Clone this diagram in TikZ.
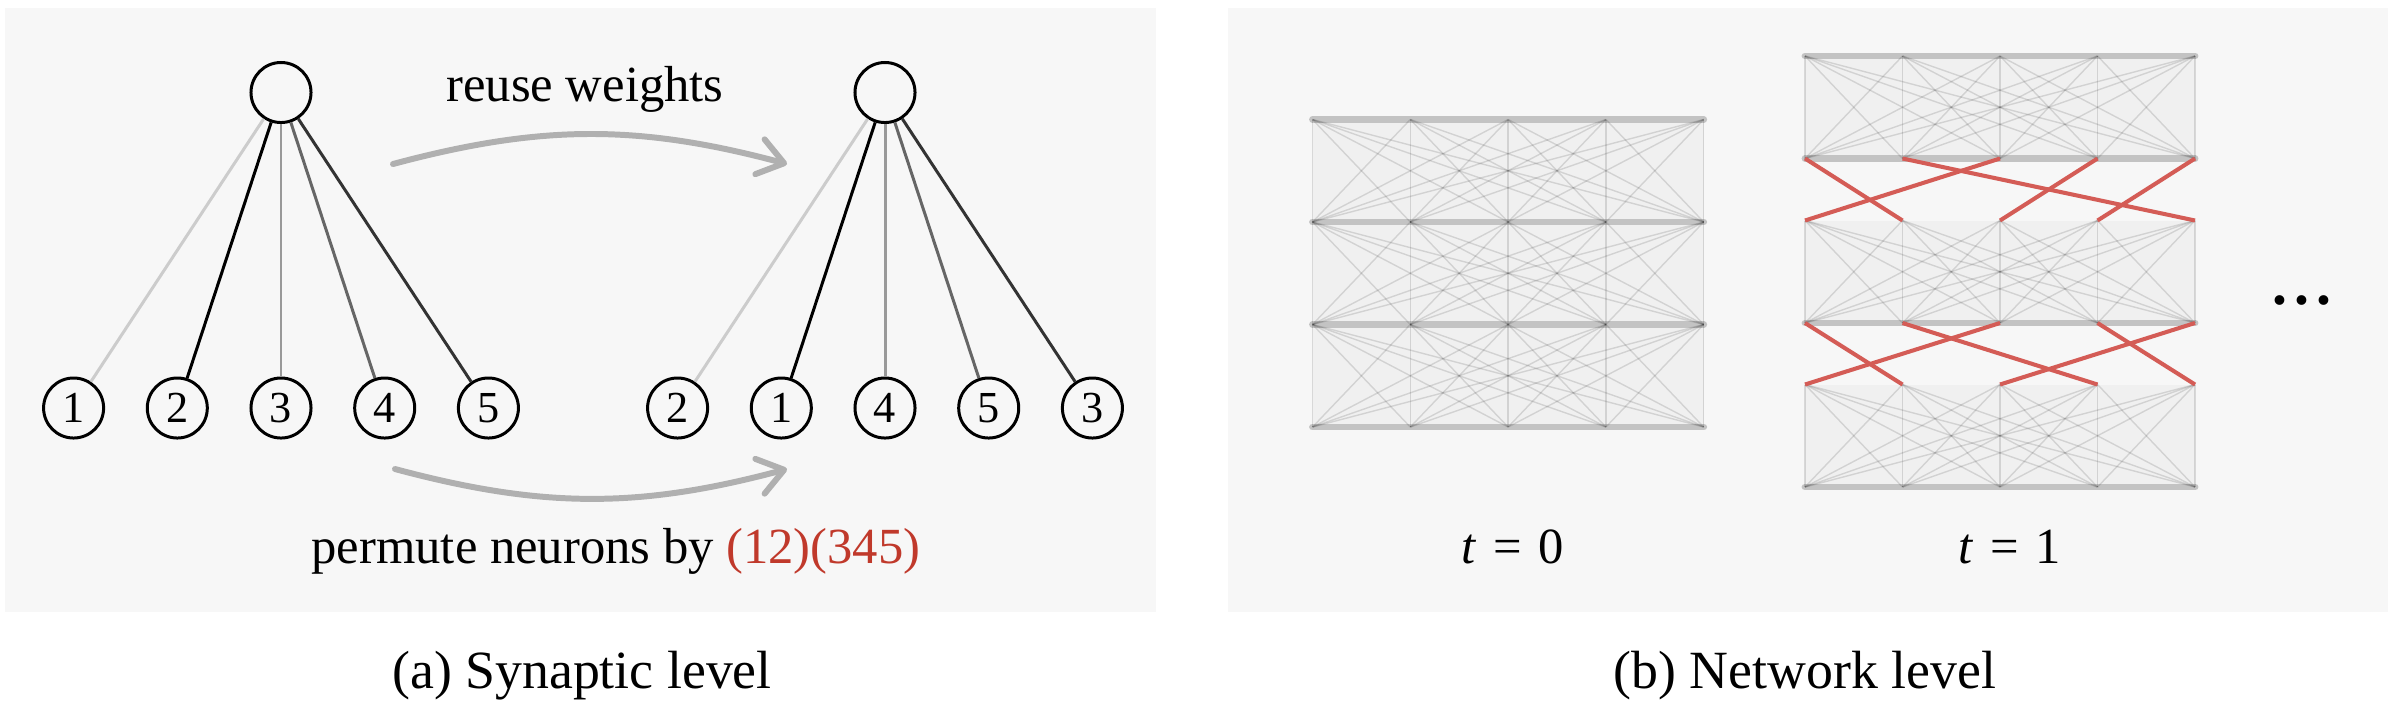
\documentclass[tikz,border=0pt]{standalone}
\usepackage{fontspec}
\setmainfont{Liberation Serif}
\usetikzlibrary{arrows.meta}
\definecolor{panelbg}{HTML}{F7F7F7}
\definecolor{permred}{RGB}{192,57,43}
\definecolor{permline}{RGB}{212,92,86}
\definecolor{arrgray}{HTML}{B0B0B0}
\definecolor{blockfill}{HTML}{F0F0F0}
\definecolor{bargray}{HTML}{C3C3C3}
\tikzset{
  neuron/.style={circle, draw=black, line width=0.85pt, fill=panelbg, minimum size=0.6cm, inner sep=0pt,
                 font=\fontsize{12.6pt}{14pt}\selectfont},
  syn/.style={line width=0.85pt},
  bigarrow/.style={draw=arrgray, line width=1.7pt, line cap=round,
                   -{Straight Barb[length=0.25cm, width=0.36cm, line cap=round, line join=round]}},
  lbl/.style={anchor=base, inner sep=0pt, font=\fontsize{14.4pt}{17pt}\selectfont},
  caption/.style={anchor=base, inner sep=0pt, font=\fontsize{15.3pt}{18pt}\selectfont},
  blockrect/.style={fill=blockfill},
  bar/.style={draw=bargray, line width=1.95pt, line cap=round},
  dense/.style={draw=black, opacity=0.12, line width=0.4pt},
  perm/.style={draw=permline, line width=1.15pt},
}
\begin{document}
\begin{tikzpicture}[x=0.01cm, y=-0.01cm]
\useasboundingbox (0,0) rectangle (2388,708);
\fill[white] (0,0) rectangle (2388,708);
\fill[panelbg] (5,8) rectangle (1156,612);
\fill[panelbg] (1228,8) rectangle (2388,612);

% ---------- (a) synaptic level ----------
\node[neuron] (L0) at (281,92.5) {};
\node[neuron] (L1) at (73.6,408) {1};
\node[neuron] (L2) at (177.3,408) {2};
\node[neuron] (L3) at (281,408) {3};
\node[neuron] (L4) at (384.7,408) {4};
\node[neuron] (L5) at (488.4,408) {5};

\node[neuron] (R0) at (885,92.5) {};
\node[neuron] (R2) at (677.6,408) {2};
\node[neuron] (R1) at (781.3,408) {1};
\node[neuron] (R4) at (885,408) {4};
\node[neuron] (R5) at (988.7,408) {5};
\node[neuron] (R3) at (1092.4,408) {3};

\draw[syn, black!20] (L0) -- (L1);
\draw[syn, black]    (L0) -- (L2);
\draw[syn, black!40] (L0) -- (L3);
\draw[syn, black!60] (L0) -- (L4);
\draw[syn, black!80] (L0) -- (L5);

\draw[syn, black!20] (R0) -- (R2);
\draw[syn, black]    (R0) -- (R1);
\draw[syn, black!40] (R0) -- (R4);
\draw[syn, black!60] (R0) -- (R5);
\draw[syn, black!80] (R0) -- (R3);

\coordinate (rws) at (393,164);
\coordinate (rwe) at (787,164);
\coordinate (pms) at (395,469);
\coordinate (pme) at (787,469);
\draw[bigarrow] (rws) to[bend left=15] (rwe);
\draw[bigarrow] (pms) to[bend right=15] (pme);

\node[lbl] (reuse) at (585,101.7) {reuse weights};
\node[lbl] (permute) at (616,563.3) {permute neurons by \textcolor{permred}{(12)(345)}};
\node[caption] (capa) at (582,688.5) {(a) Synaptic level};

% ---------- (b) network level, t = 0 ----------
\foreach \l/\y in {0/119.5,1/222,2/324.5,3/427}{
  \foreach \i in {0,...,4}{
    \coordinate (A\l-\i) at ({1312.5+97.8*\i},\y);
  }
}
\foreach \l/\m in {0/1,1/2,2/3}{
  \fill[blockrect] (A\l-0) rectangle (A\m-4);
}
\foreach \l in {0,1,2,3}{
  \draw[bar] (A\l-0) -- (A\l-4);
}
\foreach \l/\m in {0/1,1/2,2/3}{
  \foreach \i in {0,...,4}{
    \foreach \j in {0,...,4}{
      \draw[dense] (A\l-\i) -- (A\m-\j);
    }
  }
}

% ---------- (b) network level, t = 1 ----------
\foreach \l/\y in {0/56,1/158.5,2/220.5,3/323,4/384.5,5/487}{
  \foreach \i in {0,...,4}{
    \coordinate (B\l-\i) at ({1805+97.5*\i},\y);
  }
}
\foreach \l/\m in {0/1,2/3,4/5}{
  \fill[blockrect] (B\l-0) rectangle (B\m-4);
}
\foreach \l in {0,1,3,5}{
  \draw[bar] (B\l-0) -- (B\l-4);
}
\foreach \l/\m in {0/1,2/3,4/5}{
  \foreach \i in {0,...,4}{
    \foreach \j in {0,...,4}{
      \draw[dense] (B\l-\i) -- (B\m-\j);
    }
  }
}
\foreach \i/\j in {0/1,1/4,2/0,3/2,4/3}{
  \draw[perm] (B1-\i) -- (B2-\j);
}
\foreach \i/\j in {0/1,1/3,2/0,3/4,4/2}{
  \draw[perm] (B3-\i) -- (B4-\j);
}

\node[lbl] (t0) at (1513,563.3) {\textit{t}\hspace{0.33em}=\hspace{0.33em}0};
\node[lbl] (t1) at (2010,563.3) {\textit{t}\hspace{0.33em}=\hspace{0.33em}1};
\node[lbl, font=\fontsize{17pt}{20pt}\selectfont\bfseries] (dots) at (2302,304) {.\hspace{0.12em}.\hspace{0.12em}.};
\node[caption] (capb) at (1805,688.5) {(b) Network level};
\end{tikzpicture}
\end{document}
